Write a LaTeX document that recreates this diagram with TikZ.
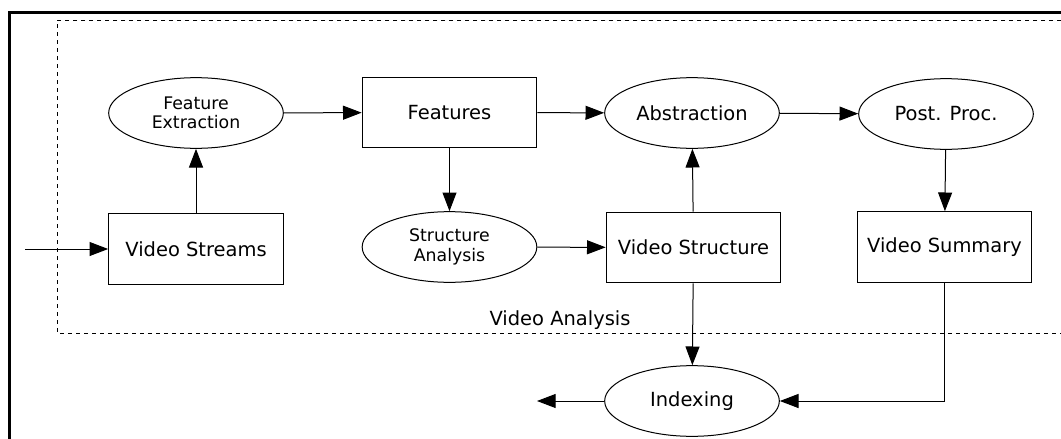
\documentclass[tikz,border=0pt]{standalone}
\usepackage{fontspec}
\setmainfont{DejaVu Sans}
\usetikzlibrary{arrows.meta,shapes.geometric}
\begin{document}
\begin{tikzpicture}[x=0.75pt, y=-0.75pt, line width=0.75pt,
	box/.style = {draw, rectangle, minimum width=131pt, minimum height=53pt, font=\fontsize{14.6}{17}\selectfont},
	proc/.style = {draw, ellipse, inner sep=0pt, minimum width=131pt, minimum height=53pt, font=\fontsize{14.6}{17}\selectfont},
	sproc/.style = {proc, align=center, font=\fontsize{13}{14.6}\selectfont},
	>={Triangle[length=14pt, width=10.5pt]}]
	\useasboundingbox (0,0) rectangle (1061,439);
	% frames
	\draw[line width=1.6pt] (1061,12.5) -| (9.5,439);
	\draw[dash pattern=on 3pt off 3pt] (1061,20) -| (57,333) -- (1061,333);
	\node[font=\fontsize{14.6}{17}\selectfont] (lbl) at (560,320) {Video Analysis};
	
	\node[sproc] (fext) at (196,113) {Feature\\Extraction};
	\node[box] (feat) at (449.5,112.5) {Features};
	\node[proc] (abst) at (692,113) {Abstraction};
	\node[proc] (post) at (946,114) {Post. Proc.};
	
	\node[box] (vstr) at (196,249) {Video Streams};
	\node[sproc] (sana) at (449.5,247) {Structure\\Analysis};
	\node[box] (vstruct) at (693.5,247.5) {Video Structure};
	\node[box] (vsum) at (944.5,247) {Video Summary};
	
	\node[proc] (index) at (692,401) {Indexing};
	
	\coordinate (in) at (25,249);
	\coordinate (out) at (537,401);
	
	\draw[->] (in) -- (vstr);
	\draw[->] (vstr) -- (fext);
	\draw[->] (fext) -- (feat);
	\draw[->] (feat) -- (abst);
	\draw[->] (abst) -- (post);
	\draw[->] (post) -- (vsum);
	\draw[->] (feat) -- (sana);
	\draw[->] (sana) -- (vstruct);
	\draw[->] (vstruct) -- (abst);
	\draw[->] (vstruct) -- (index);
	\draw[->] (vsum) |- (index);
	\draw[->] (index) -- (out);
	
\end{tikzpicture}
\end{document}
